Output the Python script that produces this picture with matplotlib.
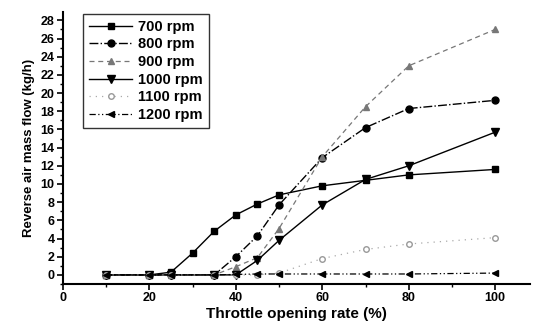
import matplotlib
matplotlib.use("Agg")
import matplotlib.pyplot as plt
from matplotlib.ticker import MultipleLocator

plt.rcParams['font.family'] = ['Liberation Sans', 'DejaVu Sans']

x700 = [10, 20, 25, 30, 35, 40, 45, 50, 60, 70, 80, 100]
y700 = [0, 0, 0.3, 2.4, 4.8, 6.6, 7.8, 8.8, 9.8, 10.4, 11.0, 11.6]
x_rest = [10, 20, 25, 35, 40, 45, 50, 60, 70, 80, 100]
y800 = [0, 0, 0, 0, 2.0, 4.3, 7.7, 12.9, 16.2, 18.3, 19.2]
y900 = [0, 0, 0, 0, 0.9, 1.9, 5.1, 13.0, 18.5, 23.0, 27.0]
y1000 = [0, 0, 0, 0, 0, 1.6, 3.8, 7.7, 10.5, 12.0, 15.7]
y1100 = [0, 0, 0, 0, 0, 0, 0.2, 1.8, 2.8, 3.4, 4.1]
y1200 = [0, 0, 0, 0, 0.05, 0.1, 0.1, 0.1, 0.1, 0.1, 0.2]
labels = ['700 rpm', '800 rpm', '900 rpm', '1000 rpm', '1100 rpm', '1200 rpm']

fig = plt.figure(figsize=(5.33, 3.24), dpi=100)
ax = fig.add_axes([0.118, 0.1235, 0.876, 0.839])

ax.plot(x700, y700, color='black', ls='-', lw=1.0, marker='s', ms=5, label=labels[0])
ax.plot(x_rest, y800, color='black', ls='-.', lw=1.0, marker='o', ms=5, label=labels[1])
ax.plot(x_rest, y900, color='#777777', ls=(0, (4, 3)), lw=0.9, marker='^', ms=5, label=labels[2])
ax.plot(x_rest, y1000, color='black', ls='-', lw=1.0, marker='v', ms=6, label=labels[3])
ax.plot(x_rest, y1100, color='#aaaaaa', ls=(0, (1, 4)), lw=0.9, marker='o', ms=4,
        mfc='white', mec='#999999', label=labels[4])
ax.plot(x_rest, y1200, color='black', ls=(0, (5, 2, 1, 2, 1, 2)), lw=0.9, marker='<', ms=5, label=labels[5])

ax.set_xlim(0, 108)
ax.set_ylim(-1, 28.9)
ax.xaxis.set_major_locator(MultipleLocator(20))
ax.xaxis.set_minor_locator(MultipleLocator(10))
ax.yaxis.set_major_locator(MultipleLocator(2))
ax.yaxis.set_minor_locator(MultipleLocator(1))
ax.spines['top'].set_visible(False)
ax.spines['right'].set_visible(False)
ax.spines['left'].set_linewidth(1.5)
ax.spines['bottom'].set_linewidth(1.5)
ax.tick_params(which='major', direction='out', length=4, width=1.2, labelsize=9, pad=2)
ax.tick_params(which='minor', direction='out', length=2, width=1)
for lab in ax.get_xticklabels() + ax.get_yticklabels():
    lab.set_fontweight('bold')

ax.set_xlabel('Throttle opening rate (%)', fontsize=11, fontweight='bold', labelpad=2)
ax.set_ylabel('Reverse air mass flow (kg/h)', fontsize=9.5, fontweight='bold', labelpad=4)

leg = ax.legend(loc='upper left', bbox_to_anchor=(0.027, 1.02), frameon=True, fancybox=False,
                edgecolor='black', prop={'weight': 'bold', 'size': 10.5},
                handlelength=3.0, labelspacing=0.25, borderpad=0.4, handletextpad=0.4)
leg.get_frame().set_linewidth(1.0)

fig.savefig('out.png', dpi=100)
